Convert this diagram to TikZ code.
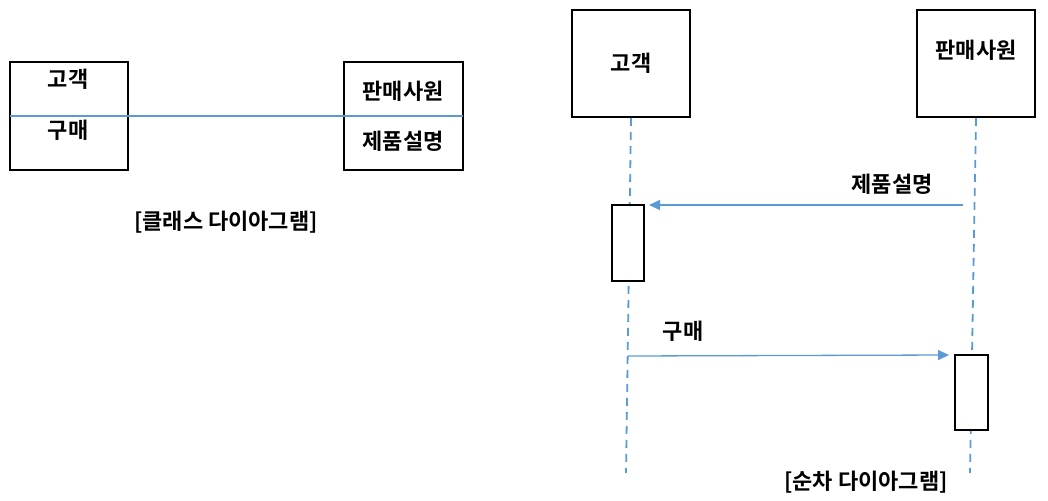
\documentclass[tikz,border=0pt]{standalone}
\usepackage{fontspec}
\newfontfamily\kr{Noto Sans CJK KR Bold}
\usetikzlibrary{arrows.meta}
\definecolor{lblue}{RGB}{91,155,213}
\begin{document}
\begin{tikzpicture}[x=1pt,y=-1pt,
  box/.style={draw=black,line width=2pt,fill=white},
  lbl/.style={font=\kr\fontsize{22}{24}\selectfont,inner sep=0pt},
  life/.style={draw=lblue,line width=1.8pt,dash pattern=on 8pt off 6pt},
  msg/.style={draw=lblue,line width=1.3pt,-{Triangle[length=11pt,width=10pt]}}]
\useasboundingbox (0,0) rectangle (1048,500);
% class diagram
\draw[box] (10,62) rectangle (128,170);
\draw[box] (344,62) rectangle (463,170);
\coordinate (cl) at (10,116);
\coordinate (cr) at (463,116);
\draw[lblue,line width=1.2pt] (cl) -- (cr);
\node[lbl] (c1) at (68,79) {고객};
\node[lbl] (c2) at (68,130) {구매};
\node[lbl] (s1) at (403,91) {판매사원};
\node[lbl] (s2) at (403,141) {제품설명};
\node[lbl] (cap1) at (226,222) {[클래스 다이아그램]};
% sequence diagram
\node[box,minimum width=118pt,minimum height=107pt,inner sep=0pt] (A) at (631,63.5) {};
\node[lbl] at (631,63) {고객};
\node[box,minimum width=118pt,minimum height=107pt,inner sep=0pt] (B) at (976,63.5) {};
\node[lbl] at (976,50) {판매사원};
\coordinate (Aend) at (626,473);
\coordinate (Bend) at (970,473);
\draw[life] (A.south) -- (Aend);
\draw[life] (B.south) -- (Bend);
\node[box,minimum width=32pt,minimum height=76pt,inner sep=0pt] (act1) at (628,243) {};
\node[box,minimum width=33pt,minimum height=75pt,inner sep=0pt] (act2) at (971.5,392.5) {};
\coordinate (m1s) at (963,205);
\coordinate (m1e) at (649,205);
\draw[msg] (m1s) -- (m1e);
\node[lbl] (m1l) at (892,184) {제품설명};
\coordinate (m2s) at (628,356);
\coordinate (m2e) at (949,355);
\draw[msg] (m2s) -- (m2e);
\node[lbl] (m2l) at (683,331) {구매};
\node[lbl] (cap2) at (866,482) {[순차 다이아그램]};
\end{tikzpicture}
\end{document}
